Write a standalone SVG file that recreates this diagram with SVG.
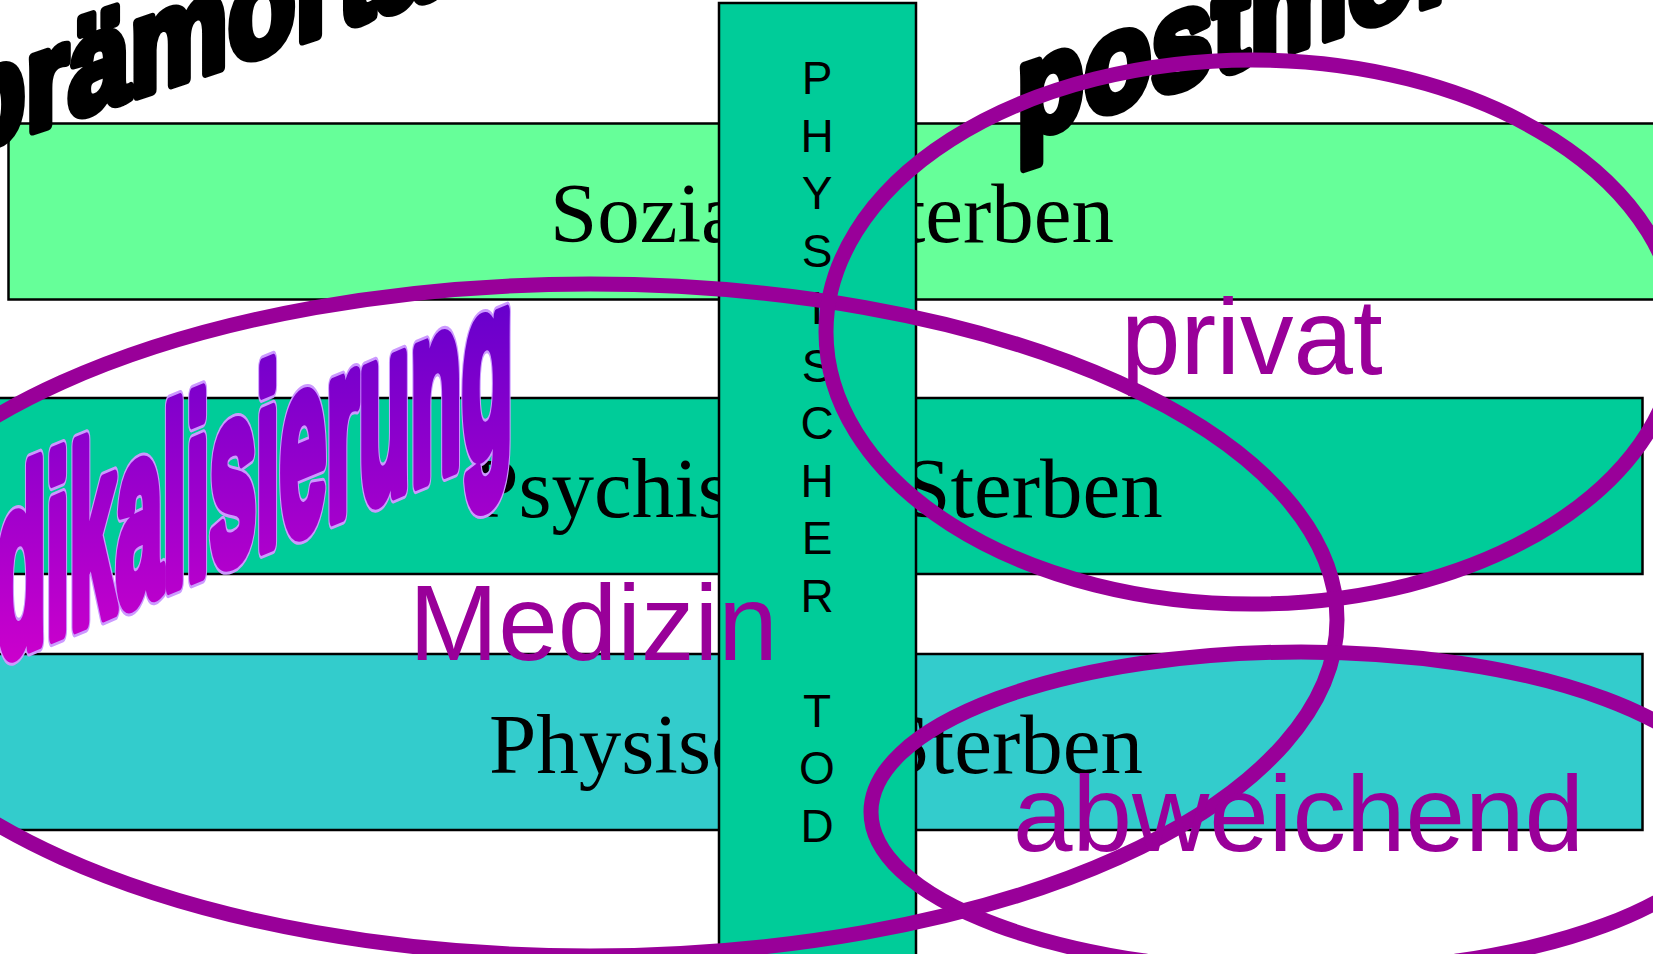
<svg xmlns="http://www.w3.org/2000/svg" width="1653" height="954" viewBox="0 0 1653 954">
<style>
.band{stroke:#000;stroke-width:2.5}
.lbl{font-family:"Liberation Serif","Times New Roman",serif;font-size:85px;fill:#000;text-anchor:middle}
.col{font-family:"Liberation Sans",Arial,sans-serif;font-size:46px;fill:#000;text-anchor:middle}
.ring{fill:none;stroke:#990099;stroke-width:15}
.tag{font-family:"Liberation Sans",Arial,sans-serif;font-size:107px;fill:#990099}
.wa{font-family:"Liberation Sans",Arial,sans-serif;font-weight:bold}
.blk{font-size:138px;fill:#000;stroke:#000;stroke-width:10;stroke-linejoin:round}
.mk{font-size:250px;stroke-linejoin:round}
.mk-out{fill:url(#mkg);stroke:#CC99FF;stroke-width:22}
.mk-in{fill:url(#mkg);stroke:url(#mkg);stroke-width:16}
</style>
<defs>
<linearGradient id="mkg" gradientUnits="userSpaceOnUse" x1="0" y1="-409" x2="-50.5" y2="-51.1">
<stop offset="0" stop-color="#6600CC"/>
<stop offset="1" stop-color="#CC00CC"/>
</linearGradient>
<text id="mktext" class="wa mk" x="0" y="0">Medikalisierung</text>
</defs>
<rect width="1653" height="954" fill="#fff"/>
<g id="soziales-sterben">
<rect class="band" x="8.5" y="123.5" width="1660" height="176" fill="#66FF99"/>
<text class="lbl" x="832" y="242">Soziales Sterben</text>
</g>
<g id="psychisches-sterben">
<rect class="band" x="-10" y="398" width="1652.5" height="176" fill="#00CC99"/>
<text class="lbl" x="817" y="516.5">Psychisches Sterben</text>
</g>
<g id="physisches-sterben">
<rect class="band" x="-10" y="654" width="1652.5" height="176" fill="#33CCCC"/>
<text class="lbl" x="816" y="773">Physisches Sterben</text>
</g>
<g id="physischer-tod">
<rect class="band" x="719" y="3" width="197" height="980" fill="#00CC99"/>
<text class="col" x="817" y="94">P<tspan x="817" dy="57.5">H</tspan><tspan x="817" dy="57.5">Y</tspan><tspan x="817" dy="57.5">S</tspan><tspan x="817" dy="57.5">I</tspan><tspan x="817" dy="57.5">S</tspan><tspan x="817" dy="57.5">C</tspan><tspan x="817" dy="57.5">H</tspan><tspan x="817" dy="57.5">E</tspan><tspan x="817" dy="57.5">R</tspan><tspan x="817" dy="115">T</tspan><tspan x="817" dy="57.5">O</tspan><tspan x="817" dy="57.5">D</tspan></text>
</g>
<g id="praemortal">
<text class="wa blk" transform="translate(-42,155.5) skewY(-18.43) scale(0.8,1)">prämortal</text>
</g>
<g id="postmortal">
<text class="wa blk" transform="translate(1016.5,142) skewY(-18.43) scale(0.8,1)">postmortal</text>
</g>
<g id="rings">
<ellipse class="ring" cx="590" cy="620" rx="747" ry="336"/>
<ellipse class="ring" cx="1252" cy="332" rx="426" ry="272"/>
<ellipse class="ring" cx="1301" cy="812" rx="430" ry="160"/>
</g>
<g id="medikalisierung" transform="translate(-122,709) skewY(-22.78) scale(0.336,1)">
<use href="#mktext" class="mk-out"/>
<use href="#mktext" class="mk-in"/>
</g>
<g id="privat"><text class="tag" x="1121" y="374">privat</text></g>
<g id="medizin"><text class="tag" x="409" y="660">Medizin</text></g>
<g id="abweichend"><text class="tag" x="1013" y="851">abweichend</text></g>
</svg>
